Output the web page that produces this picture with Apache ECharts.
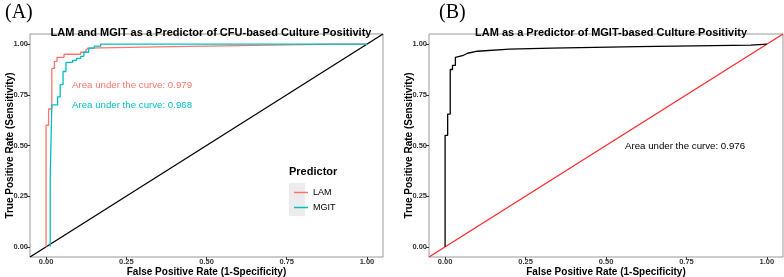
<!DOCTYPE html>
<html lang="en">
<head>
  <meta charset="UTF-8">
  <title>ROC curves</title>
  <style>
    html, body { margin: 0; padding: 0; background: #fff; }
    #main { width: 784px; height: 277px; }
  </style>
</head>
<body>
  <div id="main"></div>
  <script src="https://cdn.jsdelivr.net/npm/echarts@6/dist/echarts.min.js"></script>
  <script>
    // panel A: LAM vs MGIT against CFU culture
    var lamFpr = [0, 0, 0.008, 0.008, 0.018, 0.018, 0.026, 0.026, 0.034, 0.034, 0.056, 0.056, 0.108, 0.108, 0.124, 0.124, 0.13, 0.13, 0.3, 0.6, 0.9, 1.0]
    var lamTpr = [0, 0.60, 0.60, 0.68, 0.68, 0.88, 0.88, 0.915, 0.915, 0.935, 0.935, 0.95, 0.95, 0.96, 0.96, 0.97, 0.97, 0.98, 0.985, 0.993, 1.0, 1.0]
    var mgitFpr = [0.013, 0.013, 0.018, 0.018, 0.036, 0.036, 0.044, 0.044, 0.053, 0.053, 0.062, 0.062, 0.083, 0.083, 0.095, 0.095, 0.108, 0.108, 0.118, 0.118, 0.133, 0.133, 0.15, 0.15, 0.17, 0.17, 1.0]
    var mgitTpr = [0, 0.34, 0.34, 0.70, 0.70, 0.74, 0.74, 0.80, 0.80, 0.865, 0.865, 0.91, 0.91, 0.92, 0.92, 0.93, 0.93, 0.94, 0.94, 0.96, 0.96, 0.98, 0.98, 0.99, 0.99, 1.0, 1.0]
    // panel B: LAM against MGIT culture
    var lamBFpr = [0, 0, 0.008, 0.008, 0.016, 0.016, 0.023, 0.023, 0.032, 0.032, 0.057, 0.07, 0.1, 0.2, 0.33, 0.6, 0.95, 1.0]
    var lamBTpr = [0, 0.55, 0.55, 0.655, 0.655, 0.875, 0.875, 0.895, 0.895, 0.935, 0.945, 0.955, 0.965, 0.975, 0.98, 0.988, 0.995, 1.0]
    var diag = [-0.05, 1.05]
    var ticks = [0, 0.25, 0.5, 0.75, 1]

    function pairs(xs, ys) {
      return xs.map(function (x, i) { return [x, ys[i]] })
    }

    var font = 'Liberation Sans, Arial, sans-serif'
    var myChart = echarts.init(document.getElementById('main'))

    function xAx(idx) {
      return {
        type: 'value', gridIndex: idx, min: -0.05, max: 1.05, position: 'bottom',
        name: 'False Positive Rate (1-Specificity)', nameLocation: 'middle', nameGap: 10, nameMoveOverlap: false,
        nameTextStyle: { fontFamily: font, fontSize: 10, fontWeight: 'bold', color: '#000' },
        axisLine: { show: false, onZero: false },
        axisTick: { show: true, inside: false, length: 3, customValues: ticks, lineStyle: { color: '#333' } },
        axisLabel: { customValues: ticks, margin: 1, fontFamily: font, fontSize: 7.5, fontWeight: 'bold', color: '#333',
          formatter: function (v) { return v.toFixed(2) } },
        splitLine: { show: false }
      }
    }
    function yAx(idx) {
      return {
        type: 'value', gridIndex: idx, min: -0.05, max: 1.05, position: 'left',
        name: 'True Positive Rate (Sensitivity)', nameLocation: 'middle', nameGap: 15, nameRotate: 90, nameMoveOverlap: false,
        nameTextStyle: { fontFamily: font, fontSize: 10, fontWeight: 'bold', color: '#000' },
        axisLine: { show: false, onZero: false },
        axisTick: { show: true, inside: false, length: 3, customValues: ticks, lineStyle: { color: '#333' } },
        axisLabel: { customValues: ticks, margin: 2, fontFamily: font, fontSize: 7.5, fontWeight: 'bold', color: '#333',
          formatter: function (v) { return v.toFixed(2) } },
        splitLine: { show: false }
      }
    }
    function line(name, data, color, idx, z) {
      return {
        name: name, type: 'line', xAxisIndex: idx, yAxisIndex: idx, data: data,
        showSymbol: false, symbol: 'none', z: z || 2,
        lineStyle: { color: color, width: 1.3 }, itemStyle: { color: color }
      }
    }

    var options = {
      animation: false,
      title: [
        { text: 'LAM and MGIT as a Predictor of CFU-based Culture Positivity', left: 206, top: 22, textAlign: 'center',
          textStyle: { fontFamily: font, fontSize: 11, fontWeight: 'bold', color: '#000' } },
        { text: 'LAM as a Predictor of MGIT-based Culture Positivity', left: 606, top: 22, textAlign: 'center',
          textStyle: { fontFamily: font, fontSize: 11, fontWeight: 'bold', color: '#000' } },
        { text: '(A)', left: 0, top: -2,
          textStyle: { fontFamily: 'Liberation Serif, Times New Roman, serif', fontSize: 20, fontWeight: 'normal', color: '#000' } },
        { text: '(B)', left: 434, top: -2,
          textStyle: { fontFamily: 'Liberation Serif, Times New Roman, serif', fontSize: 20, fontWeight: 'normal', color: '#000' } }
      ],
      grid: [
        { left: 30, top: 34, width: 353, height: 223, show: true, borderColor: '#999', borderWidth: 1, backgroundColor: '#fff',
          containLabel: false, outerBoundsMode: 'none' },
        { left: 429, top: 34, width: 354, height: 223, show: true, borderColor: '#999', borderWidth: 1, backgroundColor: '#fff',
          containLabel: false, outerBoundsMode: 'none' }
      ],
      xAxis: [xAx(0), xAx(1)],
      yAxis: [yAx(0), yAx(1)],
      legend: {
        data: ['LAM', 'MGIT'], orient: 'vertical', left: 289, top: 183, z: 5,
        icon: 'rect', itemWidth: 14, itemHeight: 1.5, itemGap: 6,
        textStyle: { fontFamily: font, fontSize: 9, color: '#000' }
      },
      graphic: [
        { type: 'rect', left: 289, top: 183, z: 1, shape: { width: 16, height: 33 }, style: { fill: '#ececec' } },
        { type: 'text', left: 289, top: 166, style: { text: 'Predictor', font: 'bold 11px Liberation Sans', fill: '#000' } },
        { type: 'text', left: 72, top: 80, style: { text: 'Area under the curve: 0.979', font: '9.7px Liberation Sans', fill: '#F8766D' } },
        { type: 'text', left: 72, top: 100, style: { text: 'Area under the curve: 0.968', font: '9.7px Liberation Sans', fill: '#00BFC4' } },
        { type: 'text', left: 625, top: 141, style: { text: 'Area under the curve: 0.976', font: '9.7px Liberation Sans', fill: '#000' } }
      ],
      series: [
        line('diagA', [[diag[0], diag[0]], [diag[1], diag[1]]], '#000', 0, 1),
        line('LAM', pairs(lamFpr, lamTpr), '#F8766D', 0, 3),
        line('MGIT', pairs(mgitFpr, mgitTpr), '#00BFC4', 0, 3),
        line('diagB', [[diag[0], diag[0]], [diag[1], diag[1]]], '#FF2A2A', 1, 1),
        line('LAM-MGIT', pairs(lamBFpr, lamBTpr), '#000', 1, 3)
      ]
    }

    myChart.setOption(options)
  </script>
</body>
</html>
